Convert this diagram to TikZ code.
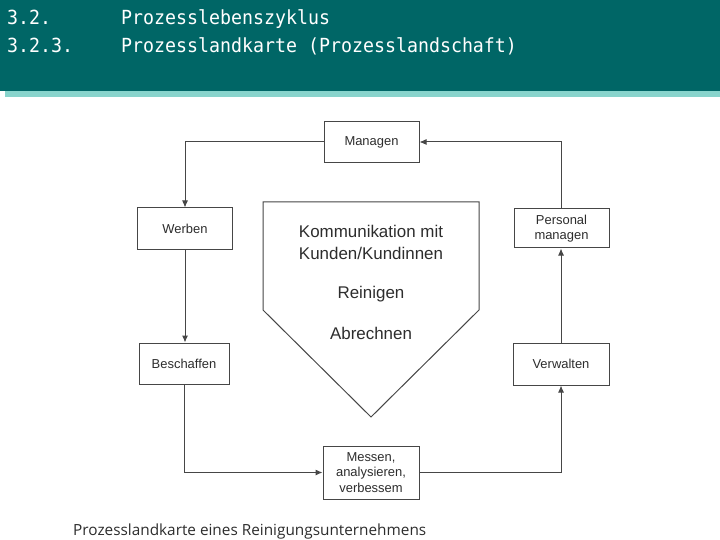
\documentclass[tikz,border=0pt]{standalone}
\usepackage{fontspec}
\setmainfont{Liberation Sans}
\newfontfamily\headfont{DejaVu Sans Mono}[FakeStretch=0.94]
\newfontfamily\capfont{Open Sans}
\usetikzlibrary{arrows.meta}
\definecolor{headteal}{RGB}{0,102,102}
\definecolor{stripe}{RGB}{136,212,204}
\definecolor{ink}{RGB}{45,45,45}
\definecolor{lineink}{RGB}{70,70,70}
\tikzset{
  box/.style={draw=lineink, line width=1bp, minimum width=95bp, minimum height=41bp,
    align=center, font=\fontsize{13}{15.5}\selectfont, text=ink, inner sep=0pt},
  conn/.style={draw=lineink, line width=1bp, -{Latex[length=7bp,width=6bp]}},
  headtext/.style={anchor=base west, text=white, font=\headfont\fontsize{19.5}{22}\selectfont, inner sep=0pt},
  bigtext/.style={anchor=base, text=ink, font=\fontsize{17}{19}\selectfont, inner sep=0pt},
}
\begin{document}
\begin{tikzpicture}[x=1bp,y=-1bp]
\useasboundingbox (0,0) rectangle (720,540);
\fill[white] (0,0) rectangle (720,540);
\fill[headteal] (0,0) rectangle (720,91);
\fill[stripe] (5,91) rectangle (720,97);
\node[headtext] (h1) at (7,25) {3.2.};
\node[headtext] (h2) at (121,25) {Prozesslebenszyklus};
\node[headtext] (h3) at (7,53) {3.2.3.};
\node[headtext] (h4) at (121,53) {Prozesslandkarte (Prozesslandschaft)};

% pentagon
\coordinate (p1) at (263,202);
\coordinate (p2) at (479,202);
\coordinate (p3) at (479,310);
\coordinate (p4) at (371,417);
\coordinate (p5) at (263,310);
\draw[draw=lineink, line width=1bp, line join=miter] (p1) -- (p2) -- (p3) -- (p4) -- (p5) -- cycle;
\node[bigtext] (t1) at (371,238) {Kommunikation mit};
\node[bigtext] (t2) at (371,260) {Kunden/Kundinnen};
\node[bigtext] (t3) at (371,298) {Reinigen};
\node[bigtext] (t4) at (371,339) {Abrechnen};

% boxes
\node[box] (man) at (371.5,142) {Managen};
\node[box] (werb) at (185,228.5) {Werben};
\node[box, minimum height=39bp] (pers) at (561.5,228.5) {Personal\\managen};
\node[box, minimum width=90bp] (besch) at (184,363.5) {Beschaffen};
\node[box, minimum width=96bp, minimum height=53bp] (mess) at (371,472.5) {Messen,\\analysieren,\\verbessem};
\node[box, minimum width=96bp, minimum height=42bp] (verw) at (561,364) {Verwalten};

% connectors
\draw[conn] (man.west) -| (werb.north);
\draw[conn] (werb.south) -- (werb.south |- besch.north);
\draw[conn] (besch.south) |- (mess.west);
\draw[conn] (mess.east) -| (verw.south);
\draw[conn] (verw.north) -- (verw.north |- pers.south);
\draw[conn] (pers.north) |- (man.east);

% caption
\node[anchor=base west, inner sep=0pt, text=ink, font=\capfont\fontsize{15.4}{18}\selectfont] (cap) at (73,535) {Prozesslandkarte eines Reinigungsunternehmens};
\end{tikzpicture}
\end{document}
